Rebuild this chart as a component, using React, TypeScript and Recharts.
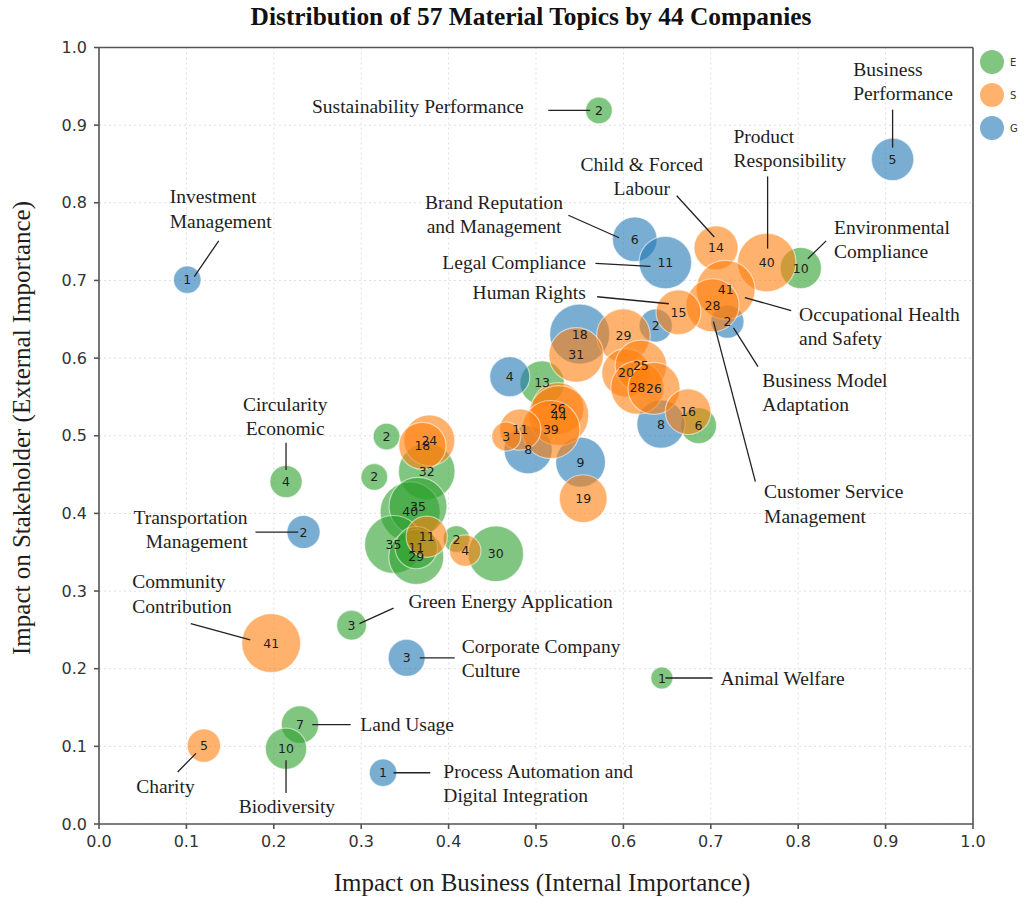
import React from 'react';
import { ScatterChart, Scatter, XAxis, YAxis, CartesianGrid, ReferenceLine } from 'recharts';

// number of companies per topic, placed by impact on business (x) and on stakeholders (y)
const envTopics = [
  { x: 0.572, y: 0.919, n: 2 },
  { x: 0.803, y: 0.716, n: 10 },
  { x: 0.507, y: 0.568, n: 13 },
  { x: 0.686, y: 0.513, n: 6 },
  { x: 0.329, y: 0.499, n: 2 },
  { x: 0.315, y: 0.447, n: 2 },
  { x: 0.375, y: 0.454, n: 32 },
  { x: 0.356, y: 0.402, n: 40 },
  { x: 0.365, y: 0.409, n: 35 },
  { x: 0.337, y: 0.360, n: 35 },
  { x: 0.363, y: 0.344, n: 29 },
  { x: 0.363, y: 0.356, n: 11 },
  { x: 0.409, y: 0.367, n: 2 },
  { x: 0.454, y: 0.348, n: 30 },
  { x: 0.214, y: 0.441, n: 4 },
  { x: 0.289, y: 0.256, n: 3 },
  { x: 0.230, y: 0.128, n: 7 },
  { x: 0.214, y: 0.097, n: 10 },
  { x: 0.644, y: 0.188, n: 1 },
];

const socTopics = [
  { x: 0.706, y: 0.742, n: 14 },
  { x: 0.764, y: 0.723, n: 40 },
  { x: 0.717, y: 0.688, n: 41 },
  { x: 0.702, y: 0.668, n: 28 },
  { x: 0.663, y: 0.659, n: 15 },
  { x: 0.600, y: 0.629, n: 29 },
  { x: 0.546, y: 0.604, n: 31 },
  { x: 0.603, y: 0.581, n: 20 },
  { x: 0.620, y: 0.590, n: 25 },
  { x: 0.616, y: 0.562, n: 28 },
  { x: 0.635, y: 0.561, n: 26 },
  { x: 0.525, y: 0.535, n: 26 },
  { x: 0.526, y: 0.526, n: 44 },
  { x: 0.517, y: 0.508, n: 39 },
  { x: 0.482, y: 0.508, n: 11 },
  { x: 0.466, y: 0.499, n: 3 },
  { x: 0.554, y: 0.419, n: 19 },
  { x: 0.674, y: 0.531, n: 16 },
  { x: 0.378, y: 0.494, n: 24 },
  { x: 0.370, y: 0.487, n: 18 },
  { x: 0.375, y: 0.370, n: 11 },
  { x: 0.419, y: 0.352, n: 4 },
  { x: 0.197, y: 0.233, n: 41 },
  { x: 0.120, y: 0.101, n: 5 },
];

const govTopics = [
  { x: 0.101, y: 0.701, n: 1 },
  { x: 0.908, y: 0.856, n: 5 },
  { x: 0.613, y: 0.753, n: 6 },
  { x: 0.648, y: 0.723, n: 11 },
  { x: 0.637, y: 0.642, n: 2 },
  { x: 0.719, y: 0.647, n: 2 },
  { x: 0.550, y: 0.631, n: 18 },
  { x: 0.470, y: 0.576, n: 4 },
  { x: 0.491, y: 0.482, n: 8 },
  { x: 0.551, y: 0.466, n: 9 },
  { x: 0.643, y: 0.515, n: 8 },
  { x: 0.234, y: 0.376, n: 2 },
  { x: 0.352, y: 0.214, n: 3 },
  { x: 0.325, y: 0.066, n: 1 },
];

const ticks = [0, 0.1, 0.2, 0.3, 0.4, 0.5, 0.6, 0.7, 0.8, 0.9, 1.0];

// topic names with text position and leader line, in data units
const notes = [
  { text: ['Sustainability Performance'], x: 0.486, y: 0.924, anchor: 'end', from: [0.514, 0.919], to: [0.562, 0.919] },
  { text: ['Investment', 'Management'], x: 0.081, y: 0.792, anchor: 'start', from: [0.137, 0.751], to: [0.109, 0.705] },
  { text: ['Business', 'Performance'], x: 0.863, y: 0.956, anchor: 'start', from: [0.908, 0.920], to: [0.908, 0.871] },
  { text: ['Child & Forced', 'Labour'], x: 0.621, y: 0.834, anchor: 'middle', from: [0.661, 0.809], to: [0.704, 0.756] },
  { text: ['Product', 'Responsibility'], x: 0.726, y: 0.870, anchor: 'start', from: [0.765, 0.834], to: [0.765, 0.741] },
  { text: ['Environmental', 'Compliance'], x: 0.841, y: 0.753, anchor: 'start', from: [0.832, 0.751], to: [0.811, 0.728] },
  { text: ['Brand Reputation', 'and Management'], x: 0.452, y: 0.785, anchor: 'middle', from: [0.537, 0.784], to: [0.595, 0.755] },
  { text: ['Legal Compliance'], x: 0.557, y: 0.723, anchor: 'end', from: [0.568, 0.722], to: [0.631, 0.718] },
  { text: ['Human Rights'], x: 0.557, y: 0.684, anchor: 'end', from: [0.570, 0.679], to: [0.652, 0.670] },
  { text: ['Occupational Health', 'and Safety'], x: 0.801, y: 0.641, anchor: 'start', from: [0.792, 0.661], to: [0.739, 0.678] },
  { text: ['Business Model', 'Adaptation'], x: 0.759, y: 0.556, anchor: 'start', from: [0.754, 0.589], to: [0.726, 0.639] },
  { text: ['Customer Service', 'Management'], x: 0.761, y: 0.412, anchor: 'start', from: [0.751, 0.441], to: [0.703, 0.647] },
  { text: ['Circularity', 'Economic'], x: 0.213, y: 0.525, anchor: 'middle', from: [0.214, 0.491], to: [0.214, 0.456] },
  { text: ['Transportation', 'Management'], x: 0.170, y: 0.379, anchor: 'end', from: [0.179, 0.376], to: [0.228, 0.376] },
  { text: ['Community', 'Contribution'], x: 0.038, y: 0.296, anchor: 'start', from: [0.105, 0.258], to: [0.173, 0.237] },
  { text: ['Green Energy Application'], x: 0.354, y: 0.286, anchor: 'start', from: [0.337, 0.278], to: [0.298, 0.258] },
  { text: ['Corporate Company', 'Culture'], x: 0.415, y: 0.213, anchor: 'start', from: [0.407, 0.214], to: [0.367, 0.214] },
  { text: ['Land Usage'], x: 0.299, y: 0.128, anchor: 'start', from: [0.288, 0.128], to: [0.244, 0.128] },
  { text: ['Charity'], x: 0.076, y: 0.048, anchor: 'middle', from: [0.090, 0.067], to: [0.111, 0.091] },
  { text: ['Biodiversity'], x: 0.215, y: 0.022, anchor: 'middle', from: [0.214, 0.040], to: [0.214, 0.082] },
  { text: ['Process Automation and', 'Digital Integration'], x: 0.394, y: 0.052, anchor: 'start', from: [0.379, 0.066], to: [0.337, 0.066] },
  { text: ['Animal Welfare'], x: 0.711, y: 0.187, anchor: 'start', from: [0.702, 0.188], to: [0.648, 0.188] },
];

const series = [
  { key: 'E', color: '#2ca02c', data: envTopics },
  { key: 'S', color: '#ff7f0e', data: socTopics },
  { key: 'G', color: '#1f77b4', data: govTopics },
];

// E first, then G, S on top
const drawOrder = ['E', 'G', 'S'];

const SERIF = '"Liberation Serif", "Times New Roman", serif';
const SANS = '"DejaVu Sans", sans-serif';

const makeBubble = (color: string, max: number) => (props: any) => {
  const r = 30 * Math.pow(props.payload.n / max, 0.27);
  return (
    <circle
      cx={props.cx}
      cy={props.cy}
      r={r}
      fill={color}
      fillOpacity={0.6}
      stroke="#ffffff"
      strokeOpacity={0.55}
      strokeWidth={1.2}
    />
  );
};

const countLabel = (props: any) => (
  <text
    x={props.cx}
    y={props.cy + 4.5}
    textAnchor="middle"
    fontFamily={SANS}
    fontSize={12.5}
    fill="#1e1e1e"
  >
    {props.payload.n}
  </text>
);

const noteText = (props: any) => {
  const { cx, cy, payload } = props;
  const lh = 24.5;
  const top = cy - ((payload.text.length - 1) * lh) / 2;
  return (
    <text textAnchor={payload.anchor} fontFamily={SERIF} fontSize={19.5} fill="#1e1e1e">
      {payload.text.map((line: string, i: number) => (
        <tspan key={i} x={cx} y={top + i * lh + 6.5}>
          {line}
        </tspan>
      ))}
    </text>
  );
};

const noMark = () => <g />;

const xTitle = (props: any) => {
  const vb = props.viewBox;
  return (
    <text x={vb.x + vb.width / 2 + 6} y={vb.y + 67} textAnchor="middle" fontFamily={SERIF} fontSize={25} fill="#1e1e1e">
      Impact on Business (Internal Importance)
    </text>
  );
};

const yTitle = () => (
  <text
    x={30}
    y={428}
    transform="rotate(-90, 30, 428)"
    textAnchor="middle"
    fontFamily={SERIF}
    fontSize={25}
    fill="#1e1e1e"
  >
    Impact on Stakeholder (External Importance)
  </text>
);

const axisStroke = { stroke: '#555555', strokeWidth: 1.6 };

export default function App() {
  const allTopics = drawOrder.flatMap((k) => series.find((s) => s.key === k)!.data);
  return (
    <div style={{ position: 'absolute', left: 0, top: 0, width: 1024, height: 905, background: '#ffffff' }}>
      <div
        style={{
          position: 'absolute',
          left: 0,
          width: 1062,
          top: 2,
          textAlign: 'center',
          fontFamily: SERIF,
          fontWeight: 'bold',
          fontSize: 25.4,
          color: '#111',
          lineHeight: '28px',
        }}
      >
        Distribution of 57 Material Topics by 44 Companies
      </div>
      <div style={{ position: 'absolute', left: 0, top: 0 }}>
        <ScatterChart width={1024} height={905} margin={{ top: 47.5, right: 51, bottom: 51, left: 39 }}>
          <CartesianGrid stroke="#dedede" strokeDasharray="2 3" />
          <XAxis
            type="number"
            dataKey="x"
            domain={[0, 1]}
            ticks={ticks}
            interval={0}
            tickFormatter={(v: number) => v.toFixed(1)}
            tick={{ fill: '#333', fontSize: 16, fontFamily: SANS }}
            axisLine={axisStroke}
            tickLine={axisStroke}
            tickSize={5}
            tickMargin={7}
            height={30}
            label={xTitle}
          />
          <YAxis
            type="number"
            dataKey="y"
            domain={[0, 1]}
            ticks={ticks}
            interval={0}
            tickFormatter={(v: number) => v.toFixed(1)}
            tick={{ fill: '#333', fontSize: 16, fontFamily: SANS }}
            axisLine={axisStroke}
            tickLine={axisStroke}
            tickSize={5}
            tickMargin={7}
            width={60}
            label={yTitle}
          />
          <ReferenceLine y={1} stroke="#555555" strokeWidth={1.6} />
          <ReferenceLine x={1} stroke="#555555" strokeWidth={1.6} />
          {drawOrder.map((k) => {
            const s = series.find((item) => item.key === k)!;
            const max = Math.max(...s.data.map((d) => d.n));
            return (
              <Scatter
                key={s.key}
                name={s.key}
                data={s.data}
                shape={makeBubble(s.color, max)}
                isAnimationActive={false}
              />
            );
          })}
          <Scatter data={allTopics} shape={countLabel} isAnimationActive={false} legendType="none" />
          {notes.map((nt, i) => (
            <Scatter
              key={'lead' + i}
              data={[
                { x: nt.from[0], y: nt.from[1] },
                { x: nt.to[0], y: nt.to[1] },
              ]}
              line={{ stroke: '#222222', strokeWidth: 1.3 }}
              shape={noMark}
              isAnimationActive={false}
              legendType="none"
            />
          ))}
          <Scatter data={notes} shape={noteText} isAnimationActive={false} legendType="none" />
        </ScatterChart>
      </div>
      <svg style={{ position: 'absolute', left: 975, top: 45 }} width={49} height={100}>
        {series.map((s, i) => (
          <g key={s.key}>
            <circle cx={17} cy={17 + i * 33} r={12} fill={s.color} fillOpacity={0.6} />
            <text x={35} y={17 + i * 33 + 3.5} fontFamily={SANS} fontSize={10} fill="#333">
              {s.key}
            </text>
          </g>
        ))}
      </svg>
    </div>
  );
}
